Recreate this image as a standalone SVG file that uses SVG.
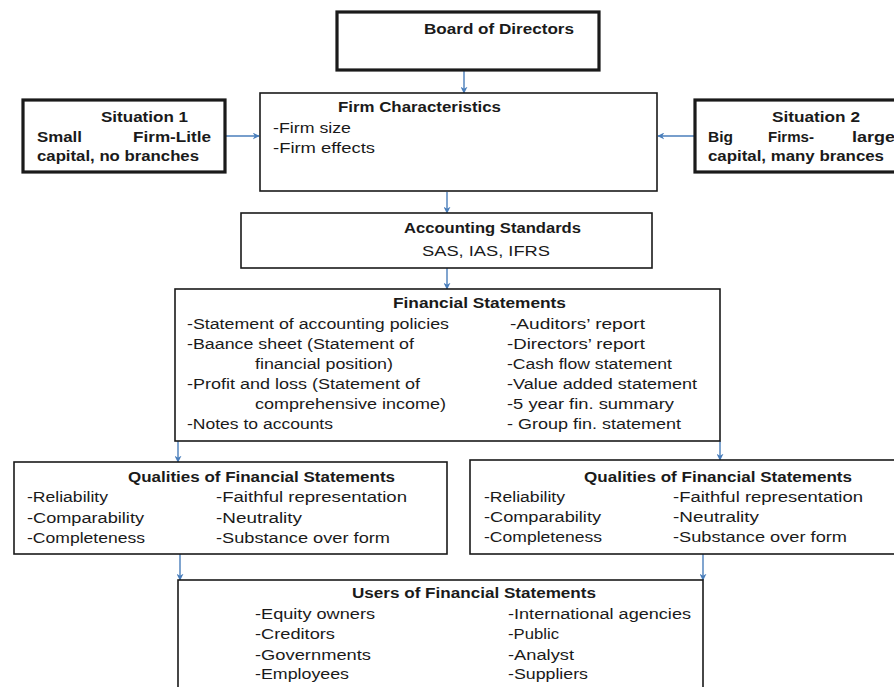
<svg xmlns="http://www.w3.org/2000/svg" width="894" height="687" viewBox="0 0 894 687">
<defs>
<marker id="ah" viewBox="0 0 10 10" refX="9" refY="5" markerWidth="7" markerHeight="7" markerUnits="userSpaceOnUse" orient="auto">
<path d="M0,0 L10,5 L0,10 L3,5 z" fill="#4a7ebb"/>
</marker>
<style>
.box{fill:#fff;stroke:#1a1a1a;stroke-width:1.6}
.thick{fill:#fff;stroke:#1a1a1a;stroke-width:3.2}
text{font-family:"Liberation Sans",Arial,sans-serif;font-size:14px;fill:#1a1a1a}
.t{font-weight:bold}
.c line{stroke:#4a7ebb;stroke-width:1.4;marker-end:url(#ah)}
</style>
</defs>
<rect width="894" height="687" fill="#fff"/>
<g class="c" id="connectors">
<line x1="464" y1="71" x2="464" y2="93"/>
<line x1="226" y1="136" x2="259" y2="136"/>
<line x1="694" y1="136" x2="658" y2="136"/>
<line x1="447" y1="192" x2="447" y2="213"/>
<line x1="447" y1="268" x2="447" y2="289"/>
<line x1="178" y1="441" x2="178" y2="462"/>
<line x1="720" y1="441" x2="720" y2="460"/>
<line x1="180" y1="554" x2="180" y2="580"/>
<line x1="703" y1="554" x2="703" y2="580"/>
</g>
<g id="board">
<rect class="thick" x="337" y="12" width="262" height="58"/>
<text class="t" x="424" y="34" textLength="150" lengthAdjust="spacingAndGlyphs">Board of Directors</text>
</g>
<g id="situation1">
<rect class="thick" x="23" y="100" width="202" height="72"/>
<text class="t" x="101" y="122" textLength="87" lengthAdjust="spacingAndGlyphs">Situation 1</text>
<text class="t" x="37" y="142" textLength="45" lengthAdjust="spacingAndGlyphs">Small</text>
<text class="t" x="133" y="142" textLength="78" lengthAdjust="spacingAndGlyphs">Firm-Litle</text>
<text class="t" x="37" y="161" textLength="162" lengthAdjust="spacingAndGlyphs">capital, no branches</text>
</g>
<g id="firm">
<rect class="box" x="260" y="93" width="397" height="98"/>
<text class="t" x="338" y="112" textLength="163" lengthAdjust="spacingAndGlyphs">Firm Characteristics</text>
<text x="273" y="133" textLength="78" lengthAdjust="spacingAndGlyphs">-Firm size</text>
<text x="273" y="153" textLength="102" lengthAdjust="spacingAndGlyphs">-Firm effects</text>
</g>
<g id="situation2">
<rect class="thick" x="695" y="100" width="210" height="72"/>
<text class="t" x="772" y="122" textLength="88" lengthAdjust="spacingAndGlyphs">Situation 2</text>
<text class="t" x="708" y="142" textLength="25" lengthAdjust="spacingAndGlyphs">Big</text>
<text class="t" x="768" y="142" textLength="46" lengthAdjust="spacingAndGlyphs">Firms-</text>
<text class="t" x="852" y="142" textLength="43" lengthAdjust="spacingAndGlyphs">large</text>
<text class="t" x="708" y="161" textLength="176" lengthAdjust="spacingAndGlyphs">capital, many brances</text>
</g>
<g id="standards">
<rect class="box" x="241" y="213" width="411" height="55"/>
<text class="t" x="404" y="233" textLength="177" lengthAdjust="spacingAndGlyphs">Accounting Standards</text>
<text x="422" y="256" textLength="128" lengthAdjust="spacingAndGlyphs">SAS, IAS, IFRS</text>
</g>
<g id="statements">
<rect class="box" x="175" y="289" width="545" height="152"/>
<text class="t" x="393" y="308" textLength="173" lengthAdjust="spacingAndGlyphs">Financial Statements</text>
<text x="187" y="329" textLength="262" lengthAdjust="spacingAndGlyphs">-Statement of accounting policies</text>
<text x="187" y="349" textLength="227" lengthAdjust="spacingAndGlyphs">-Baance sheet (Statement of</text>
<text x="255" y="369" textLength="138" lengthAdjust="spacingAndGlyphs">financial position)</text>
<text x="187" y="389" textLength="233" lengthAdjust="spacingAndGlyphs">-Profit and loss (Statement of</text>
<text x="255" y="409" textLength="191" lengthAdjust="spacingAndGlyphs">comprehensive income)</text>
<text x="187" y="429" textLength="146" lengthAdjust="spacingAndGlyphs">-Notes to accounts</text>
<text x="510" y="329" textLength="135" lengthAdjust="spacingAndGlyphs">-Auditors’ report</text>
<text x="507" y="349" textLength="138" lengthAdjust="spacingAndGlyphs">-Directors’ report</text>
<text x="507" y="369" textLength="165" lengthAdjust="spacingAndGlyphs">-Cash flow statement</text>
<text x="507" y="389" textLength="190" lengthAdjust="spacingAndGlyphs">-Value added statement</text>
<text x="507" y="409" textLength="167" lengthAdjust="spacingAndGlyphs">-5 year fin. summary</text>
<text x="507" y="429" textLength="174" lengthAdjust="spacingAndGlyphs">- Group fin. statement</text>
</g>
<g id="qualities1">
<rect class="box" x="14" y="462" width="433" height="92"/>
<text class="t" x="128" y="482" textLength="267" lengthAdjust="spacingAndGlyphs">Qualities of Financial Statements</text>
<text x="27" y="502" textLength="81" lengthAdjust="spacingAndGlyphs">-Reliability</text>
<text x="27" y="523" textLength="117" lengthAdjust="spacingAndGlyphs">-Comparability</text>
<text x="27" y="543" textLength="118" lengthAdjust="spacingAndGlyphs">-Completeness</text>
<text x="216" y="502" textLength="191" lengthAdjust="spacingAndGlyphs">-Faithful representation</text>
<text x="216" y="523" textLength="86" lengthAdjust="spacingAndGlyphs">-Neutrality</text>
<text x="216" y="543" textLength="174" lengthAdjust="spacingAndGlyphs">-Substance over form</text>
</g>
<g id="qualities2">
<rect class="box" x="470" y="460" width="430" height="94"/>
<text class="t" x="584" y="482" textLength="268" lengthAdjust="spacingAndGlyphs">Qualities of Financial Statements</text>
<text x="484" y="502" textLength="81" lengthAdjust="spacingAndGlyphs">-Reliability</text>
<text x="484" y="522" textLength="117" lengthAdjust="spacingAndGlyphs">-Comparability</text>
<text x="484" y="542" textLength="118" lengthAdjust="spacingAndGlyphs">-Completeness</text>
<text x="673" y="502" textLength="190" lengthAdjust="spacingAndGlyphs">-Faithful representation</text>
<text x="673" y="522" textLength="86" lengthAdjust="spacingAndGlyphs">-Neutrality</text>
<text x="673" y="542" textLength="174" lengthAdjust="spacingAndGlyphs">-Substance over form</text>
</g>
<g id="users">
<rect class="box" x="178" y="580" width="525" height="115"/>
<text class="t" x="352" y="598" textLength="244" lengthAdjust="spacingAndGlyphs">Users of Financial Statements</text>
<text x="255" y="619" textLength="120" lengthAdjust="spacingAndGlyphs">-Equity owners</text>
<text x="255" y="639" textLength="80" lengthAdjust="spacingAndGlyphs">-Creditors</text>
<text x="255" y="660" textLength="116" lengthAdjust="spacingAndGlyphs">-Governments</text>
<text x="255" y="679" textLength="94" lengthAdjust="spacingAndGlyphs">-Employees</text>
<text x="508" y="619" textLength="183" lengthAdjust="spacingAndGlyphs">-International agencies</text>
<text x="508" y="639" textLength="51" lengthAdjust="spacingAndGlyphs">-Public</text>
<text x="508" y="660" textLength="66" lengthAdjust="spacingAndGlyphs">-Analyst</text>
<text x="508" y="679" textLength="80" lengthAdjust="spacingAndGlyphs">-Suppliers</text>
</g>
</svg>
